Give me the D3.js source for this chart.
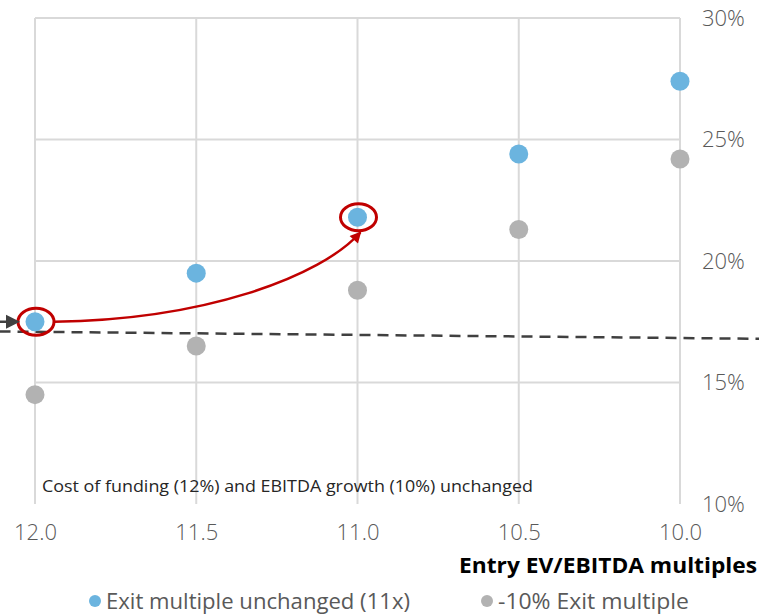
<!DOCTYPE html>
<html>
<head>
<meta charset="utf-8">
<script src="https://cdn.jsdelivr.net/npm/d3@7"></script>
<style>
  html, body { margin: 0; padding: 0; background: #fff; }
  svg { display: block; }
  text { font-family: "Open Sans", "Noto Sans", sans-serif; }
</style>
</head>
<body>
<svg id="chart" width="759" height="614"></svg>
<script>
// Entry EV/EBITDA multiples (x axis runs from high to low)
const entryMultiples = [12.0, 11.5, 11.0, 10.5, 10.0];
// IRR with exit multiple unchanged (11x), in %
const irrExitUnchanged = [17.5, 19.5, 21.8, 24.4, 27.4];
// IRR with a 10% lower exit multiple, in %
const irrExitMinus10 = [14.5, 16.5, 18.8, 21.3, 24.2];
// Hurdle line (dashed), given as [multiple, %] end points
const hurdleLine = [[12.11, 17.1], [9.755, 16.8]];
const xTickLabels = ["12.0", "11.5", "11.0", "10.5", "10.0"];
const yTicks = [10, 15, 20, 25, 30];
const seriesNames = ["Exit multiple unchanged (11x)", "-10% Exit multiple"];
const note = "Cost of funding (12%) and EBITDA growth (10%) unchanged";
const axisTitle = "Entry EV/EBITDA multiples";

const colors = { blue: "#6bb4df", gray: "#b2b2b2", grid: "#d9d9d9", red: "#c00000", tick: "#595959" };

const svg = d3.select("#chart");
const plot = { left: 35, right: 680, top: 18, bottom: 504 };

const x = d3.scaleLinear().domain([12.0, 10.0]).range([plot.left, plot.right]);
const y = d3.scaleLinear().domain([10, 30]).range([plot.bottom, plot.top]);

// Gridlines
const g = svg.append("g");
g.selectAll("line.vgrid").data(entryMultiples).join("line")
  .attr("x1", d => x(d)).attr("x2", d => x(d))
  .attr("y1", y(30)).attr("y2", y(10))
  .attr("stroke", colors.grid).attr("stroke-width", 2);
g.selectAll("line.hgrid").data(yTicks.filter(t => t > 10)).join("line")
  .attr("x1", x(12)).attr("x2", x(10))
  .attr("y1", d => y(d)).attr("y2", d => y(d))
  .attr("stroke", colors.grid).attr("stroke-width", 2);

// Note inside the plot
svg.append("text").attr("x", 42).attr("y", 492)
  .attr("font-size", 16.5).attr("fill", "#262626")
  .attr("textLength", 491).attr("lengthAdjust", "spacingAndGlyphs").text(note);

// Axis labels via d3 axes
const xAxis = d3.axisBottom(x).tickValues(entryMultiples)
  .tickFormat((d, i) => xTickLabels[i]).tickSize(0).tickPadding(20);
const xa = svg.append("g").attr("transform", `translate(0,${plot.bottom})`).call(xAxis);
xa.select(".domain").remove();
xa.selectAll("text").attr("font-size", 22).attr("font-weight", 300).attr("fill", colors.tick)
  .style("font-family", "'Open Sans', 'Noto Sans', sans-serif");

const yAxis = d3.axisRight(y).tickValues(yTicks).tickFormat(d => d + "%").tickSize(0).tickPadding(22);
const ya = svg.append("g").attr("transform", `translate(${plot.right},0)`).call(yAxis);
ya.select(".domain").remove();
ya.selectAll("text").attr("font-size", 22).attr("font-weight", 300).attr("fill", colors.tick)
  .style("font-family", "'Open Sans', 'Noto Sans', sans-serif");

svg.append("text").attr("x", 757).attr("y", 573).attr("text-anchor", "end")
  .attr("font-size", 20.5).attr("font-weight", "bold").attr("fill", "#000")
  .attr("textLength", 298).attr("lengthAdjust", "spacingAndGlyphs").text(axisTitle);

// Dashed hurdle line
svg.append("line")
  .attr("x1", x(hurdleLine[0][0])).attr("y1", y(hurdleLine[0][1]))
  .attr("x2", x(hurdleLine[1][0])).attr("y2", y(hurdleLine[1][1]))
  .attr("stroke", "#404040").attr("stroke-width", 2.5).attr("stroke-dasharray", "11,7");

// Points
svg.append("g").selectAll("circle").data(entryMultiples).join("circle")
  .attr("cx", d => x(d)).attr("cy", (d, i) => y(irrExitMinus10[i]))
  .attr("r", 9.5).attr("fill", colors.gray);
svg.append("g").selectAll("circle").data(entryMultiples).join("circle")
  .attr("cx", d => x(d)).attr("cy", (d, i) => y(irrExitUnchanged[i]))
  .attr("r", 9.5).attr("fill", colors.blue);

// Highlight rings around 12.0x and 11.0x
const highlighted = [0, 2];
svg.append("g").selectAll("ellipse").data(highlighted).join("ellipse")
  .attr("cx", i => x(entryMultiples[i]) + 1).attr("cy", i => y(irrExitUnchanged[i]))
  .attr("rx", 18).attr("ry", 13.5)
  .attr("fill", "none").attr("stroke", colors.red).attr("stroke-width", 3);

// Arrow markers
const defs = svg.append("defs");
defs.append("marker").attr("id", "redHead").attr("viewBox", "0 0 10 10")
  .attr("refX", 9).attr("refY", 5).attr("markerWidth", 5.5).attr("markerHeight", 4.5)
  .attr("markerUnits", "strokeWidth").attr("orient", "auto")
  .append("path").attr("d", "M0,0 L10,5 L0,10 Z").attr("fill", colors.red);

// Curved arrow from the 12.0x ring to the 11.0x ring
const p0x = x(entryMultiples[0]) + 19, p0y = y(irrExitUnchanged[0]);
const p3x = x(entryMultiples[2]) + 3, p3y = y(irrExitUnchanged[2]) + 15;
const curve = d3.path();
curve.moveTo(p0x, p0y);
curve.bezierCurveTo(p0x + 150, p0y - 2, p3x - 40, p3y + 45, p3x, p3y);
svg.append("path").attr("d", curve.toString())
  .attr("fill", "none").attr("stroke", colors.red).attr("stroke-width", 2.5)
  .attr("marker-end", "url(#redHead)");

// Black pointer arrow on the left edge
const ay = y(irrExitUnchanged[0]);
svg.append("line").attr("x1", 0).attr("x2", 8).attr("y1", ay).attr("y2", ay)
  .attr("stroke", "#404040").attr("stroke-width", 2.5);
svg.append("path")
  .attr("d", `M6,${ay - 7} L20,${ay} L6,${ay + 7} Z`).attr("fill", "#404040");

// Legend
const legend = [
  { name: seriesNames[0], color: colors.blue, x: 95, len: 304 },
  { name: seriesNames[1], color: colors.gray, x: 487, len: 191 }
];
const lg = svg.append("g").selectAll("g").data(legend).join("g")
  .attr("transform", d => `translate(${d.x},601)`);
lg.append("circle").attr("r", 6).attr("fill", d => d.color);
lg.append("text").attr("x", 11).attr("y", 7.5).attr("font-size", 21).attr("fill", colors.tick)
  .attr("textLength", d => d.len).attr("lengthAdjust", "spacingAndGlyphs")
  .text(d => d.name);
</script>
</body>
</html>
